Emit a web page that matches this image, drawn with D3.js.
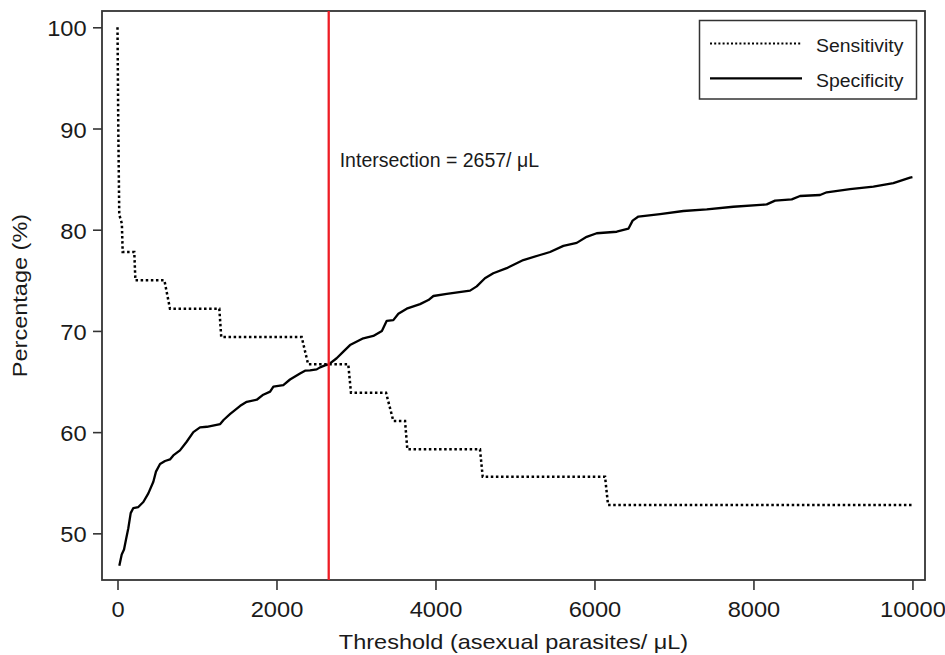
<!DOCTYPE html>
<html>
<head>
<meta charset="utf-8">
<script src="https://cdn.jsdelivr.net/npm/d3@7"></script>
<style>
  html, body { margin: 0; padding: 0; background: #fff; }
  svg { display: block; font-family: "Liberation Sans", Arial, sans-serif; }
</style>
</head>
<body>
<svg id="chart" width="945" height="655"></svg>
<script>
// ---- data ----
const sensThreshold = [0, 10, 22, 55, 65, 211, 225, 590, 660, 1281, 1305, 2317, 2398, 2903, 2937, 3378, 3470, 3617, 3646, 4560, 4594, 6133, 6171, 10000];
const sensValue     = [100, 90, 81.5, 80.6, 77.8, 77.8, 75.0, 75.0, 72.2, 72.2, 69.4, 69.4, 66.7, 66.7, 63.9, 63.9, 61.1, 61.1, 58.3, 58.3, 55.6, 55.6, 52.8, 52.8];

const specThreshold = [23, 53, 82, 107, 136, 166, 199, 262, 325, 388, 451, 484, 535, 598, 660, 702, 786, 870, 954, 1038, 1124, 1292, 1334, 1418, 1544, 1626, 1752, 1834, 1920, 1961, 2086, 2170, 2296, 2359, 2422, 2506, 2548, 2610, 2657, 2757, 2841, 2925, 3092, 3218, 3326, 3387, 3470, 3533, 3638, 3806, 3911, 3974, 4142, 4435, 4519, 4622, 4727, 4896, 5105, 5315, 5441, 5609, 5777, 5902, 6028, 6280, 6427, 6480, 6553, 6825, 7118, 7413, 7747, 8167, 8272, 8482, 8586, 8838, 8922, 9215, 9509, 9760, 9970, 10000];
const specValue     = [46.8, 47.9, 48.4, 49.4, 50.5, 52.0, 52.5, 52.6, 53.1, 53.95, 55.1, 56.1, 56.85, 57.15, 57.3, 57.7, 58.2, 59.05, 60.0, 60.47, 60.53, 60.8, 61.2, 61.8, 62.6, 63.0, 63.2, 63.7, 64.0, 64.5, 64.65, 65.2, 65.8, 66.07, 66.1, 66.2, 66.4, 66.6, 66.7, 67.3, 67.95, 68.6, 69.27, 69.5, 70.0, 71.0, 71.07, 71.7, 72.2, 72.65, 73.05, 73.45, 73.65, 73.98, 74.4, 75.2, 75.7, 76.2, 77.0, 77.5, 77.8, 78.4, 78.7, 79.3, 79.65, 79.8, 80.1, 80.9, 81.3, 81.55, 81.85, 82.0, 82.27, 82.5, 82.87, 83.0, 83.33, 83.43, 83.7, 84.0, 84.25, 84.6, 85.15, 85.2];

const intersection = 2657;
const xTicks = [0, 2000, 4000, 6000, 8000, 10000];
const yTicks = [50, 60, 70, 80, 90, 100];
const seriesNames = ["Sensitivity", "Specificity"];
const xTitle = "Threshold (asexual parasites/ \u03BCL)";
const yTitle = "Percentage (%)";
const intersectionLabel = "Intersection = 2657/ \u03BCL";

// ---- layout ----
const plot = { left: 102, top: 11, right: 925, bottom: 580 };
const ink = "#1a1a1a";
const frameColor = "#333";

const svg = d3.select("#chart");

const x = d3.scaleLinear().domain([-195, 10158]).range([plot.left, plot.right]);
const y = d3.scaleLinear().domain([45.39, 101.61]).range([plot.bottom, plot.top]);

// axes
const xAxis = d3.axisBottom(x).tickValues(xTicks).tickSize(10).tickSizeOuter(0).tickPadding(12).tickFormat(d3.format("d"));
const gx = svg.append("g").attr("transform", `translate(0,${plot.bottom})`).call(xAxis);
gx.select(".domain").remove();
gx.selectAll(".tick line").attr("stroke", frameColor).attr("stroke-width", 1.6);
gx.selectAll(".tick text").attr("fill", ink).style("font-size", "21.5px")
  .attr("transform", "scale(1.1,1)");

const yAxis = d3.axisLeft(y).tickValues(yTicks).tickSize(9).tickSizeOuter(0).tickPadding(5).tickFormat(d3.format("d"));
const gy = svg.append("g").attr("transform", `translate(${plot.left},0)`).call(yAxis);
gy.select(".domain").remove();
gy.selectAll(".tick line").attr("stroke", frameColor).attr("stroke-width", 1.6);
gy.selectAll(".tick text").attr("fill", ink).style("font-size", "21.5px")
  .attr("dy", "0.4em")
  .attr("transform", "scale(1.1,1)");

// frame
svg.append("rect")
  .attr("x", plot.left).attr("y", plot.top)
  .attr("width", plot.right - plot.left).attr("height", plot.bottom - plot.top)
  .attr("fill", "none").attr("stroke", frameColor).attr("stroke-width", 1.8);

// lines
const line = d3.line().x(d => x(d[0])).y(d => y(d[1]));
const sensData = sensThreshold.map((t, i) => [t, sensValue[i]]);
const specData = specThreshold.map((t, i) => [t, specValue[i]]);

svg.append("path").datum(specData).attr("d", line)
  .attr("fill", "none").attr("stroke", "#000").attr("stroke-width", 2.3)
  .attr("stroke-linejoin", "round");

svg.append("path").datum(sensData).attr("d", line)
  .attr("fill", "none").attr("stroke", "#000").attr("stroke-width", 2.5)
  .attr("stroke-dasharray", "2.5,2.6");

// intersection line
svg.append("line")
  .attr("x1", x(intersection)).attr("x2", x(intersection))
  .attr("y1", plot.top).attr("y2", plot.bottom)
  .attr("stroke", "#ee1c25").attr("stroke-width", 2.3);

svg.append("text")
  .attr("x", x(intersection) + 11).attr("y", 166.5)
  .attr("fill", ink).style("font-size", "19.5px")
  .text(intersectionLabel);

// legend
const lg = svg.append("g");
lg.append("rect").attr("x", 699.5).attr("y", 20.5).attr("width", 217).attr("height", 78.5)
  .attr("fill", "#fff").attr("stroke", frameColor).attr("stroke-width", 1.5);
const legendRows = [
  { name: seriesNames[0], yLine: 43.5, yText: 51.7, dash: "2,2.2", w: 2 },
  { name: seriesNames[1], yLine: 78.3, yText: 86.8, dash: null, w: 2.2 }
];
legendRows.forEach(r => {
  const l = lg.append("line").attr("x1", 710).attr("x2", 802)
    .attr("y1", r.yLine).attr("y2", r.yLine)
    .attr("stroke", "#000").attr("stroke-width", r.w);
  if (r.dash) l.attr("stroke-dasharray", r.dash);
  lg.append("text").attr("transform", `translate(816,${r.yText}) scale(1.05,1)`)
    .attr("fill", ink).style("font-size", "18.5px").text(r.name);
});

// axis titles
svg.append("text")
  .attr("transform", `translate(${(plot.left + plot.right) / 2},649) scale(1.12,1)`)
  .attr("text-anchor", "middle").attr("fill", ink).style("font-size", "21px")
  .text(xTitle);

svg.append("text")
  .attr("transform", `translate(27,${(plot.top + plot.bottom) / 2}) rotate(-90) scale(1.12,1)`)
  .attr("text-anchor", "middle").attr("fill", ink).style("font-size", "21px")
  .text(yTitle);
</script>
</body>
</html>
